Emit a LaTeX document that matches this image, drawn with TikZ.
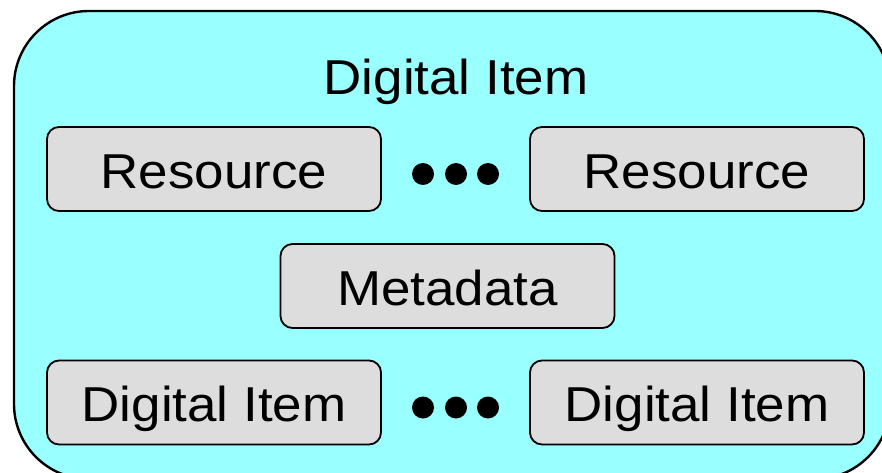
\documentclass[tikz,border=0pt]{standalone}
\usepackage{fontspec}
\setmainfont{Liberation Sans}
\definecolor{outerfill}{HTML}{99FFFF}
\definecolor{boxfill}{HTML}{DDDDDD}
\begin{document}
\begin{tikzpicture}[x=1pt,y=-1pt,
  outerbox/.style={draw=black,line width=2.4pt,fill=outerfill,rounded corners=75pt},
  itembox/.style={draw=black,line width=1.8pt,fill=boxfill,rounded corners=12pt,
    minimum width=334pt,minimum height=84pt,inner sep=0pt,text height=38pt,text depth=0pt,
    font=\fontsize{49}{58}\selectfont},
  titletext/.style={inner sep=0pt,anchor=base,font=\fontsize{49}{58}\selectfont},
  dot/.style={circle,fill=black,minimum size=22pt,inner sep=0pt}]
\useasboundingbox (0,0) rectangle (882,473);
\clip (0,0) rectangle (882,473);
\draw[outerbox] (14,11) rectangle (890,479);
\node[titletext] (title) at (456,95) {\scalebox{1.08}[1]{Digital Item}};
\node[itembox] (res1) at (214,169) {\scalebox{1.08}[1]{Resource}};
\node[itembox] (res2) at (697,169) {\scalebox{1.08}[1]{Resource}};
\node[itembox] (meta) at (447.5,286) {\scalebox{1.08}[1]{Metadata}};
\node[itembox] (di1) at (214,402.5) {\scalebox{1.08}[1]{Digital Item}};
\node[itembox] (di2) at (697,402.5) {\scalebox{1.08}[1]{Digital Item}};
\node[dot] (d1) at (423,174) {};
\node[dot] (d2) at (456,174) {};
\node[dot] (d3) at (488,174) {};
\node[dot] (d4) at (423,407.5) {};
\node[dot] (d5) at (456,407.5) {};
\node[dot] (d6) at (488,407.5) {};
\end{tikzpicture}
\end{document}
